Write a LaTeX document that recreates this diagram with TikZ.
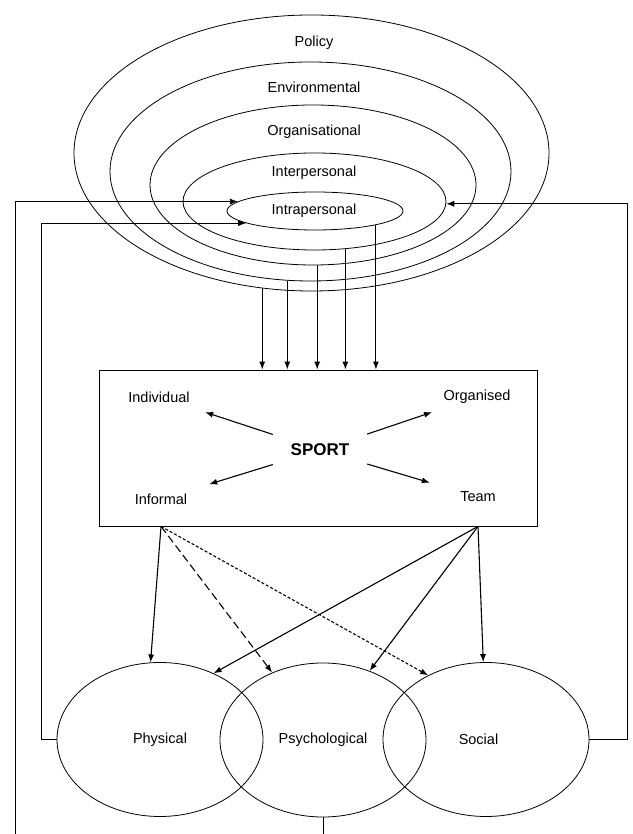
\documentclass[tikz,border=0pt]{standalone}
\usepackage{fontspec}
\setmainfont{Liberation Sans}
\usetikzlibrary{shapes.geometric,arrows.meta}

\begin{document}
\begin{tikzpicture}[x=1bp, y=1bp, >={Latex[length=8bp,width=6bp]},
    anello/.style={draw, ellipse, line width=0.8bp, inner sep=0pt},
    testo/.style={font=\fontsize{14.5bp}{17bp}\selectfont},
    angolo/.style={testo, minimum width=96bp, minimum height=30bp},
    freccia/.style={->, line width=1.1bp},
    ritorno/.style={->, line width=0.8bp}]
    \useasboundingbox (0,0) rectangle (633,834);

     % Disegna i livelli
    \node[anello, minimum width=475bp, minimum height=276bp] (policy) at (311.5,681) {};
    \node[anello, minimum width=401bp, minimum height=219bp] (environmental) at (310.5,662.5) {};
    \node[anello, minimum width=326bp, minimum height=160bp] (organisational) at (313,649) {};
    \node[anello, minimum width=263bp, minimum height=97bp] (interpersonal) at (314.5,632.5) {};
    \node[anello, minimum width=176bp, minimum height=38bp] (intrapersonal) at (315,623) {};

    \node[testo] (tpolicy) at (314,791) {Policy};
    \node[testo] (tenvironmental) at (314,747) {Environmental};
    \node[testo] (torganisational) at (314,702) {Organisational};
    \node[testo] (tinterpersonal) at (314,661) {Interpersonal};
    \node[testo] (tintrapersonal) at (314,623) {Intrapersonal};

     % Riquadro dello sport
    \node[draw, line width=0.8bp, minimum width=438bp, minimum height=156bp] (box) at (318,386) {};
    \node[font=\bfseries\fontsize{17bp}{20bp}\selectfont, minimum width=94bp, minimum height=34bp] (sport) at (320,384) {SPORT};
    \node[angolo] (individual) at (159,437) {Individual};
    \node[angolo] (organised) at (477,437) {Organised};
    \node[angolo] (informal) at (161,335) {Informal};
    \node[angolo] (team) at (478,337) {Team};

    \draw[freccia] (sport) -- (individual);
    \draw[freccia] (sport) -- (organised);
    \draw[freccia] (sport) -- (informal);
    \draw[freccia] (sport) -- (team);

    \foreach \liv/\ang in {policy/250, environmental/258, organisational/273, interpersonal/303, intrapersonal/347}
        \draw[freccia] (\liv.\ang) -- (\liv.\ang |- box.north);

     % Benefici
    \node[anello, testo, minimum width=206bp, minimum height=154bp] (physical) at (160,94.5) {Physical};
    \node[anello, testo, minimum width=206bp, minimum height=154bp] (psychological) at (323,94) {Psychological};
    \node[anello, minimum width=206bp, minimum height=154bp] (social) at (486,94.5) {};
    \node[testo] (tsocial) at (478.5,95) {Social};

    \coordinate (inf) at (informal |- box.south);
    \coordinate (tea) at (team |- box.south);

    \draw[freccia] (inf) -- (physical.97);
    \draw[freccia, dash pattern=on 8bp off 4bp] (inf) -- (psychological.127);
    \draw[freccia, dash pattern=on 3bp off 2bp] (inf) -- (social.132);
    \draw[freccia] (tea) -- (physical.51);
    \draw[freccia] (tea) -- (psychological.56);
    \draw[freccia] (tea) -- (social.92);

     % Ritorni
    \coordinate (basso) at (15,-10);
    \draw[ritorno] (psychological.south) |- (basso) |- (intrapersonal.173);
    \draw[ritorno] (physical.west) -- ++(-15,0) |- (intrapersonal.190);
    \draw[ritorno] (social.east) -- ++(38,0) |- (interpersonal.359);
\end{tikzpicture}
\end{document}
